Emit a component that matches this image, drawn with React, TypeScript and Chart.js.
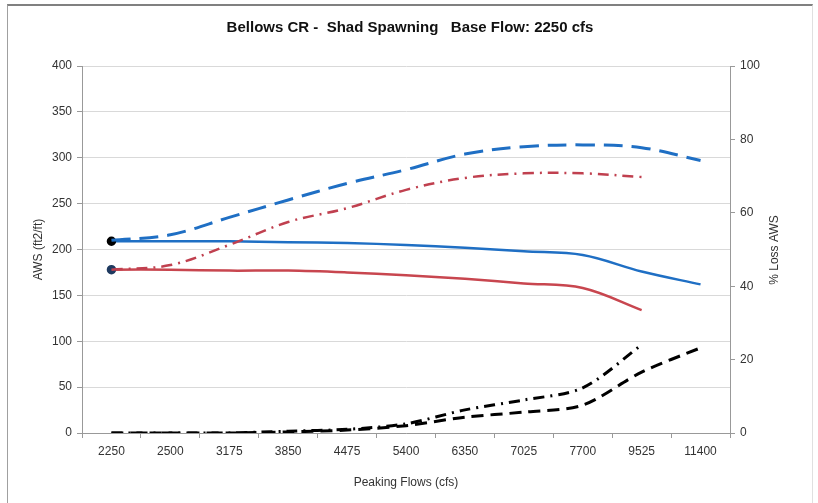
import React, { useEffect, useRef } from "react";
import { Chart, registerables } from "chart.js";

Chart.register(...registerables);

const categories = ["2250", "2500", "3175", "3850", "4475", "5400", "6350", "7025", "7700", "9525", "11400"];
const awsBlueSolid = [209, 209, 209, 208, 207, 205, 202, 198, 194, 176, 162];
const awsBlueDashed = [210, 216, 235, 254, 272, 287, 304, 312, 314, 311, 297];
const awsRedSolid = [178, 178, 177, 177, 175, 172, 168, 163, 158, 134, null];
const awsRedDashDot = [178, 183, 205, 230, 245, 265, 278, 283, 283, 279, null];
const lossBlackDashed = [0, 0, 0, 0.3, 0.8, 2, 4.3, 5.7, 7.6, 16.6, 23.2];
const lossBlackDashDot = [0, 0, 0, 0.5, 1, 2.5, 6.3, 9, 12.3, 24, null];

const titleText = "Bellows CR -  Shad Spawning   Base Flow: 2250 cfs";
const xTitle = "Peaking Flows (cfs)";
const yTitle = "AWS (ft2/ft)";
const y1Title = "% Loss AWS";

const FONT = "'Liberation Sans Narrow', 'Liberation Sans', Arial, sans-serif";

const textPlugin = {
  id: "extraText",
  afterDraw(chart: any) {
    const ctx = chart.ctx;
    ctx.save();
    ctx.fillStyle = "#111";
    ctx.font = `bold 15px ${FONT}`;
    ctx.textAlign = "center";
    ctx.textBaseline = "middle";
    ctx.fillText(titleText, 410, 28);
    ctx.font = `12px ${FONT}`;
    ctx.fillStyle = "#333";
    ctx.translate(775, 250);
    ctx.rotate(-Math.PI / 2);
    ctx.fillText(y1Title, 0, 0);
    ctx.restore();
  },
};

export default function App() {
  const ref = useRef<HTMLCanvasElement>(null);
  useEffect(() => {
    if (!ref.current) return;
    const pr = () => categories.map((_, i) => (i === 0 ? 3.5 : 0));
    const chart = new Chart(ref.current, {
      type: "line",
      data: {
        labels: categories,
        datasets: [
          {
            data: awsBlueDashed,
            borderColor: "#1f6fc4",
            borderWidth: 3,
            borderDash: [19, 9],
            pointRadius: 0,
            yAxisID: "y",
            tension: 0.35,
          },
          {
            data: awsRedDashDot,
            borderColor: "#c0404f",
            borderWidth: 2.5,
            borderDash: [11, 6, 2, 6],
            pointRadius: 0,
            yAxisID: "y",
            tension: 0.35,
          },
          {
            data: awsBlueSolid,
            borderColor: "#1f6fc4",
            borderWidth: 2.5,
            pointRadius: pr(),
            pointBackgroundColor: "#000",
            pointBorderColor: "#000",
            yAxisID: "y",
            tension: 0.35,
          },
          {
            data: awsRedSolid,
            borderColor: "#c8464f",
            borderWidth: 2.5,
            pointRadius: pr(),
            pointBackgroundColor: "#1f3a60",
            pointBorderColor: "#1f3a60",
            yAxisID: "y",
            tension: 0.35,
          },
          {
            data: lossBlackDashed,
            borderColor: "#000",
            borderWidth: 3,
            borderDash: [12, 7],
            pointRadius: 0,
            yAxisID: "y1",
            tension: 0.3,
          },
          {
            data: lossBlackDashDot,
            borderColor: "#000",
            borderWidth: 3,
            borderDash: [11, 6, 2, 6],
            pointRadius: 0,
            yAxisID: "y1",
            tension: 0.3,
          },
        ],
      },
      options: {
        animation: false,
        responsive: false,
        devicePixelRatio: 1,
        layout: { padding: { top: 66, left: 0, right: 0, bottom: 0 } },
        plugins: { legend: { display: false }, tooltip: { enabled: false }, title: { display: false } },
        scales: {
          x: {
            type: "category",
            offset: true,
            grid: { display: true, drawOnChartArea: false, offset: true, tickLength: 5, tickColor: "#999" },
            border: { color: "#999", width: 1 },
            ticks: { color: "#333", font: { family: FONT, size: 12 }, padding: 6, maxRotation: 0, autoSkip: false },
            title: { display: true, text: xTitle, color: "#333", font: { family: FONT, size: 12 }, padding: { top: 4, bottom: 13 } },
            afterFit: (s: any) => { s.height = 70; },
          },
          y: {
            position: "left",
            min: 0,
            max: 400,
            ticks: { stepSize: 50, color: "#333", font: { family: FONT, size: 12 }, padding: 5 },
            grid: { color: "#d9d9d9", tickColor: "#999", tickLength: 5 },
            border: { color: "#999", width: 1 },
            title: { display: true, text: yTitle, color: "#333", font: { family: FONT, size: 12 }, padding: { top: 31, bottom: 0 } },
            afterFit: (s: any) => { s.width = 82; },
          },
          y1: {
            position: "right",
            min: 0,
            max: 100,
            ticks: { stepSize: 20, color: "#333", font: { family: FONT, size: 12 }, padding: 5 },
            grid: { drawOnChartArea: false, tickColor: "#999", tickLength: 5 },
            border: { color: "#999", width: 1 },
            afterFit: (s: any) => { s.width = 88; },
          },
        },
      },
      plugins: [textPlugin],
    } as any);
    return () => chart.destroy();
  }, []);
  return (
    <div style={{ position: "fixed", left: 0, top: 0, width: 818, height: 503, background: "#fff", overflow: "hidden" }}>
      <canvas ref={ref} width={818} height={503} style={{ position: "absolute", left: 0, top: 0, width: 818, height: 503 }} />
      <div
        style={{
          position: "absolute",
          left: 7,
          top: 4,
          width: 804,
          height: 520,
          borderTop: "2px solid #808080",
          borderLeft: "1px solid #a0a0a0",
          borderRight: "1px solid #e0e0e0",
          pointerEvents: "none",
        }}
      />
    </div>
  );
}
